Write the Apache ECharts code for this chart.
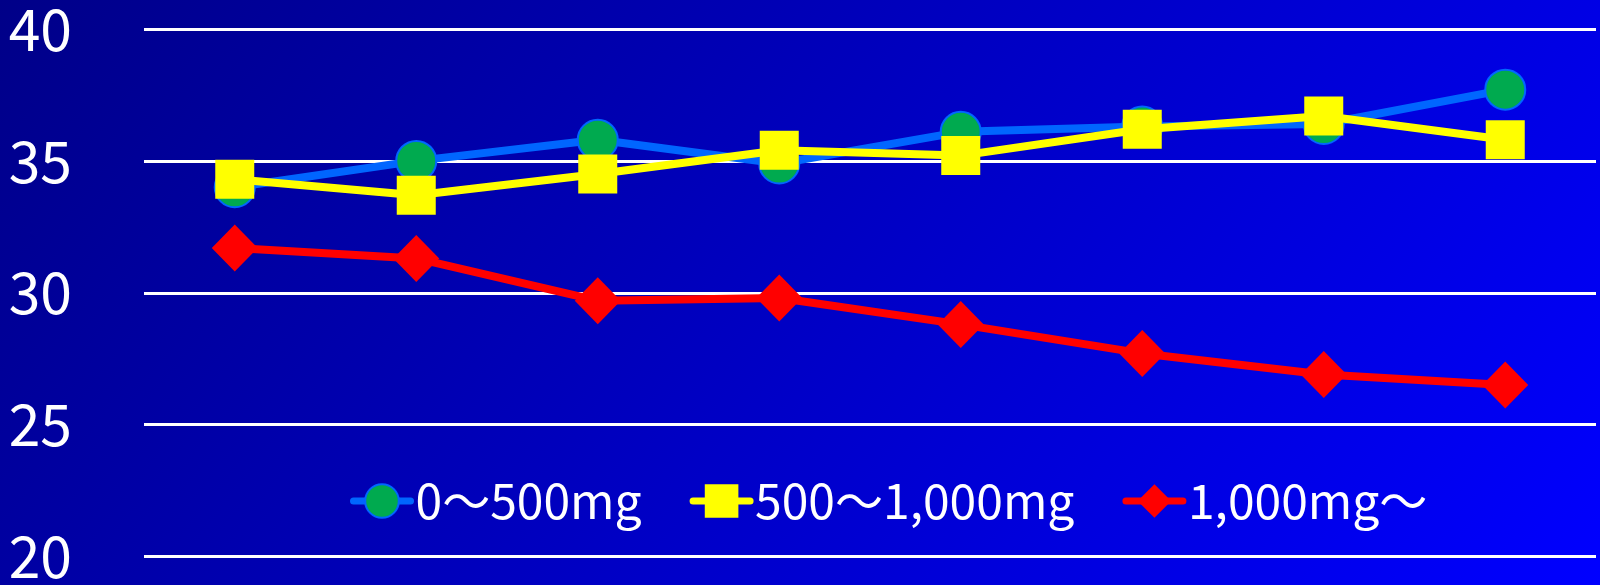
<!DOCTYPE html>
<html>
<head>
<meta charset="utf-8">
<script src="https://cdn.jsdelivr.net/npm/echarts@6/dist/echarts.min.js"></script>
<style>
html,body{margin:0;padding:0;background:#000088;}
#chart{width:1600px;height:585px;}
</style>
</head>
<body>
<div id="chart"></div>
<script>
const categories = ['1','2','3','4','5','6','7','8'];
const seriesNames = ['0〜500mg', '500〜1,000mg', '1,000mg〜'];
const low = [34.0, 35.0, 35.8, 34.9, 36.1, 36.3, 36.4, 37.7];
const mid = [34.3, 33.7, 34.5, 35.4, 35.2, 36.2, 36.7, 35.8];
const high = [31.7, 31.3, 29.7, 29.8, 28.8, 27.7, 26.9, 26.5];
const yTicks = [20, 25, 30, 35, 40];

const FONT = '"Noto Sans CJK JP", "Noto Sans", sans-serif';
const chart = echarts.init(document.getElementById('chart'));
chart.setOption({
  animation: false,
  backgroundColor: new echarts.graphic.LinearGradient(0, 0, 1419, 1109, [
    {offset: 0, color: '#000088'},
    {offset: 0.9, color: '#0000FF'},
    {offset: 1, color: '#0000FF'}
  ], true),
  grid: {left: 144, right: 4, top: 29, bottom: 27, containLabel: false},
  xAxis: {
    type: 'category',
    data: categories,
    boundaryGap: true,
    axisLine: {show: false},
    axisTick: {show: false},
    axisLabel: {show: false}
  },
  yAxis: {
    type: 'value',
    min: yTicks[0],
    max: yTicks[yTicks.length - 1],
    interval: 5,
    axisLine: {show: false},
    axisTick: {show: false},
    axisLabel: {color: '#FFFFFF', fontSize: 57, fontFamily: FONT, margin: 72, align: 'right'},
    splitLine: {lineStyle: {color: '#FFFFFF', width: 3}}
  },
  legend: {
    top: 472,
    left: 345,
    itemWidth: 57,
    itemHeight: 42,
    itemGap: 48,
    lineStyle: {width: 7, cap: 'round'},
    textStyle: {color: '#FFFFFF', fontSize: 48, fontFamily: FONT},
    data: seriesNames
  },
  series: [
    {
      name: seriesNames[0], type: 'line', data: low,
      symbol: 'circle', symbolSize: 40,
      lineStyle: {color: '#0066FF', width: 8},
      itemStyle: {color: '#00AA4F', borderColor: '#0066FF', borderWidth: 2},
      z: 2
    },
    {
      name: seriesNames[1], type: 'line', data: mid,
      symbol: 'rect', symbolSize: 39,
      lineStyle: {color: '#FFFF00', width: 8},
      itemStyle: {color: '#FFFF00'},
      z: 3
    },
    {
      name: seriesNames[2], type: 'line', data: high,
      symbol: 'diamond', symbolSize: [46, 47],
      lineStyle: {color: '#FF0000', width: 8},
      itemStyle: {color: '#FF0000'},
      z: 4
    }
  ]
});
</script>
</body>
</html>
